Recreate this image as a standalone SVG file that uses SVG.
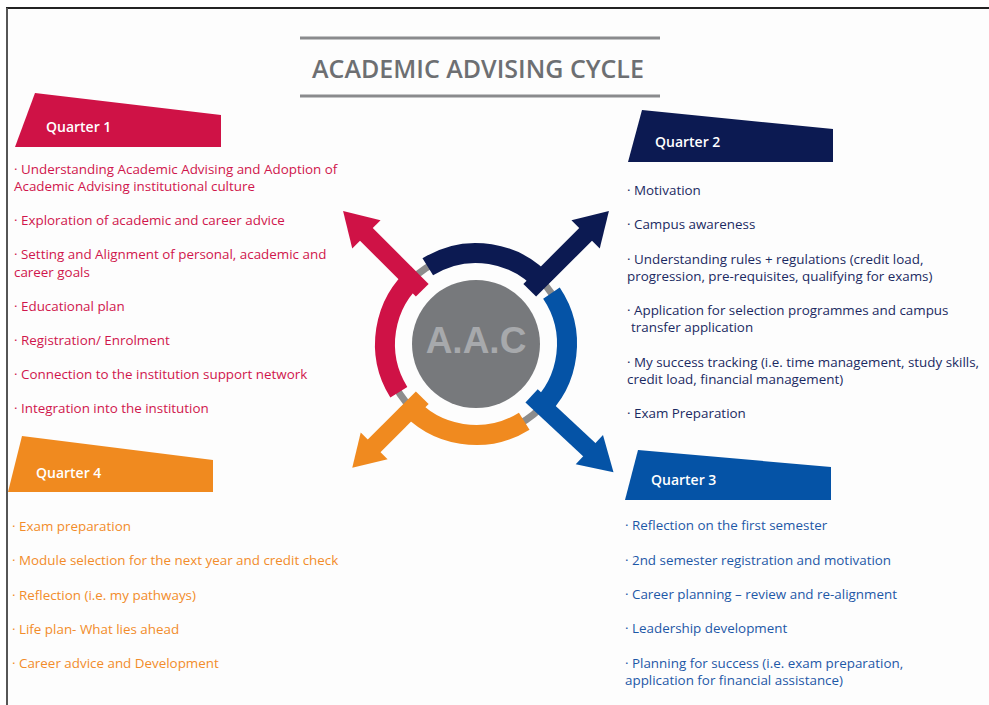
<svg xmlns="http://www.w3.org/2000/svg" xmlns:xlink="http://www.w3.org/1999/xlink" width="989" height="705" viewBox="0 0 989 705">
<style>
.t{font-family:"Open Sans","Noto Sans",sans-serif;font-size:13.4px}
.q{font-family:"Open Sans","Noto Sans",sans-serif;font-size:14px;font-weight:600;fill:#ffffff}
.r{fill:#d0164c}.n{fill:#1b2a62}.b{fill:#1d58a7}.o{fill:#f28c2a}
</style>
<defs>
<g id="arm">
<path d="M496.47 255.33 A91 91 0 0 1 566.65 351.93" fill="none" stroke="currentColor" stroke-width="20"/>
<line x1="552" y1="344" x2="636" y2="344" stroke="currentColor" stroke-width="18"/>
<polygon points="664,344 631,324 631,364" fill="currentColor"/>
</g>
<g id="armShort">
<path d="M496.47 255.33 A91 91 0 0 1 566.65 351.93" fill="none" stroke="currentColor" stroke-width="20"/>
<line x1="552" y1="344" x2="624" y2="344" stroke="currentColor" stroke-width="18"/>
<polygon points="651,344 620,325 620,363" fill="currentColor"/>
</g>
</defs>
<rect width="989" height="705" fill="#ffffff"/>
<rect x="7" y="8" width="982" height="697" fill="#fdfdfd"/>
<line x1="6" y1="8" x2="989" y2="8" stroke="#222" stroke-width="2"/>
<line x1="7" y1="8" x2="7" y2="705" stroke="#555" stroke-width="2"/>

<g id="title">
<line x1="300" y1="38" x2="660" y2="38" stroke="#8a8b8d" stroke-width="3"/>
<line x1="300" y1="96" x2="660" y2="96" stroke="#8a8b8d" stroke-width="3"/>
<text x="478" y="78" text-anchor="middle" font-family="'Open Sans','Noto Sans',sans-serif" font-size="25" font-weight="600" fill="#6d6f72">ACADEMIC ADVISING CYCLE</text>
</g>

<g id="center">
<circle cx="476" cy="344" r="91" fill="none" stroke="#8c8c8c" stroke-width="7"/>
<circle cx="476" cy="344" r="64" fill="#77797c"/>
<text x="476" y="353" text-anchor="middle" font-family="'Liberation Sans',Arial,sans-serif" font-size="37" font-weight="bold" fill="#a7a9ac">A.A.C</text>
</g>

<g id="connectors">
<use xlink:href="#arm" href="#arm" transform="rotate(-45 476 344)" style="color:#0c1a52"/>
<use xlink:href="#arm" href="#arm" transform="rotate(43 476 344)" style="color:#0553a6"/>
<use xlink:href="#armShort" href="#armShort" transform="rotate(135 476 344)" style="color:#f08a1f"/>
<use xlink:href="#arm" href="#arm" transform="rotate(225 476 344)" style="color:#cf1246"/>
</g>

<g id="quarter1">
<polygon points="35,93 221,115 221,147 15,147" fill="#cf1246"/>
<text class="q" x="46" y="132">Quarter 1</text>
<text class="t r" x="14" y="174">· Understanding Academic Advising and Adoption of</text>
<text class="t r" x="14" y="191">Academic Advising institutional culture</text>
<text class="t r" x="14" y="225">· Exploration of academic and career advice</text>
<text class="t r" x="14" y="259">· Setting and Alignment of personal, academic and</text>
<text class="t r" x="14" y="277">career goals</text>
<text class="t r" x="14" y="311">· Educational plan</text>
<text class="t r" x="14" y="345">· Registration/ Enrolment</text>
<text class="t r" x="14" y="379">· Connection to the institution support network</text>
<text class="t r" x="14" y="413">· Integration into the institution</text>
</g>

<g id="quarter2">
<polygon points="642,110 833,129 833,162 628,162" fill="#0c1a52"/>
<text class="q" x="655" y="147">Quarter 2</text>
<text class="t n" x="627" y="195">·  Motivation</text>
<text class="t n" x="627" y="229">· Campus awareness</text>
<text class="t n" x="627" y="264">· Understanding rules + regulations (credit load,</text>
<text class="t n" x="627" y="281">progression, pre-requisites, qualifying for exams)</text>
<text class="t n" x="627" y="315">· Application for selection programmes and campus</text>
<text class="t n" x="631" y="332">transfer application</text>
<text class="t n" x="627" y="367">· My success tracking (i.e. time management, study skills,</text>
<text class="t n" x="627" y="384">credit load, financial management)</text>
<text class="t n" x="627" y="418">· Exam Preparation</text>
</g>

<g id="quarter3">
<polygon points="638,450 831,467 831,500 625,500" fill="#0553a6"/>
<text class="q" x="651" y="485">Quarter 3</text>
<text class="t b" x="625" y="530">·  Reflection on the first semester</text>
<text class="t b" x="625" y="565">·  2nd semester registration and motivation</text>
<text class="t b" x="625" y="599">· Career planning – review and re-alignment</text>
<text class="t b" x="625" y="633">· Leadership development</text>
<text class="t b" x="625" y="668">· Planning for success (i.e. exam preparation,</text>
<text class="t b" x="625" y="685">application for financial assistance)</text>
</g>

<g id="quarter4">
<polygon points="22,436 213,460 213,492 8,492" fill="#f08a1f"/>
<text class="q" x="36" y="478">Quarter 4</text>
<text class="t o" x="12" y="531">·  Exam preparation</text>
<text class="t o" x="12" y="565">· Module selection for the next year and credit check</text>
<text class="t o" x="12" y="600">· Reflection (i.e. my pathways)</text>
<text class="t o" x="12" y="634">· Life plan- What lies ahead</text>
<text class="t o" x="12" y="668">· Career advice and Development</text>
</g>
</svg>
